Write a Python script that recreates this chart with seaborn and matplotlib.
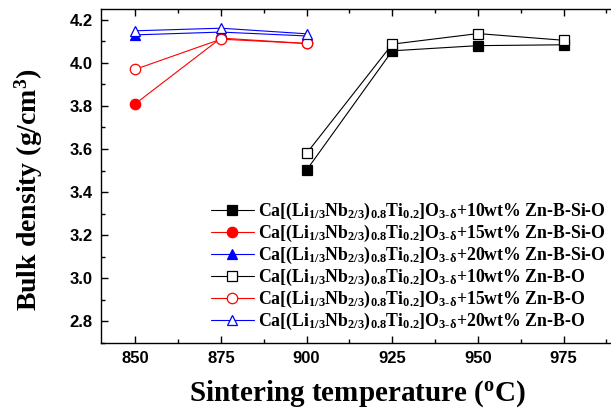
import matplotlib
matplotlib.use("Agg")
import matplotlib.pyplot as plt
import seaborn as sns
import pandas as pd
from matplotlib.ticker import MultipleLocator

# --- Data ---
temps_si = [850, 875, 900]
temps_b = [900, 925, 950, 975]

zbs_10 = [3.502, 4.056, 4.080, 4.084]   # Zn-B-Si-O, 10 wt%
zbs_15 = [3.81, 4.115, 4.09]            # Zn-B-Si-O, 15 wt%
zbs_20 = [4.13, 4.143, 4.125]           # Zn-B-Si-O, 20 wt%
zb_10 = [3.58, 4.087, 4.136, 4.105]     # Zn-B-O, 10 wt%
zb_15 = [3.97, 4.11, 4.09]              # Zn-B-O, 15 wt%
zb_20 = [4.149, 4.161, 4.135]           # Zn-B-O, 20 wt%

base = r"Ca[(Li$_{1/3}$Nb$_{2/3}$)$_{0.8}$Ti$_{0.2}$]O$_{3\text{-}\delta}$"

series = [
    (temps_b, zbs_10, "+10wt% Zn-B-Si-O", "black", "s", True),
    (temps_si, zbs_15, "+15wt% Zn-B-Si-O", "red", "o", True),
    (temps_si, zbs_20, "+20wt% Zn-B-Si-O", "blue", "^", True),
    (temps_b, zb_10, "+10wt% Zn-B-O", "black", "s", False),
    (temps_si, zb_15, "+15wt% Zn-B-O", "red", "o", False),
    (temps_si, zb_20, "+20wt% Zn-B-O", "blue", "^", False),
]

# --- Style ---
sns.set_style("ticks")
plt.rcParams.update({
    "font.family": ["Liberation Sans", "DejaVu Sans"],
    "font.weight": "bold",
    "mathtext.fontset": "custom",
    "mathtext.rm": "Liberation Serif:bold",
    "mathtext.it": "Liberation Serif:bold",
    "mathtext.bf": "Liberation Serif:bold",
    "mathtext.default": "rm",
    "axes.linewidth": 1.0,
    "text.color": "black",
    "axes.labelcolor": "black",
    "axes.edgecolor": "black",
    "xtick.color": "black",
    "ytick.color": "black",
})

fig = plt.figure(figsize=(6.11, 4.11), dpi=100)
ax = fig.add_axes([0.1653, 0.166, 1.0065 - 0.1653, 0.978 - 0.166])

for xs, ys, suffix, color, marker, filled in series:
    df = pd.DataFrame({"T": xs, "rho": ys})
    sns.lineplot(
        data=df, x="T", y="rho", ax=ax, color=color, linewidth=0.8,
        marker=marker, markersize=7 if marker != "o" else 7.5,
        markerfacecolor=color if filled else "white",
        markeredgecolor=color, markeredgewidth=0.9,
        label=base + suffix, zorder=3 if filled else 4,
    )

ax.set_xlim(840, 990)
ax.set_ylim(2.7, 4.25)
ax.xaxis.set_major_locator(MultipleLocator(25))
ax.xaxis.set_minor_locator(MultipleLocator(12.5))
ax.yaxis.set_minor_locator(MultipleLocator(0.1))
ax.set_yticks([2.8, 3.0, 3.2, 3.4, 3.6, 3.8, 4.0, 4.2])
ax.yaxis.set_major_formatter(matplotlib.ticker.FormatStrFormatter("%.1f"))
ax.tick_params(which="both", direction="in", top=True, right=False,
               labelsize=12, width=1.0)
ax.tick_params(which="major", length=5, pad=6)
ax.tick_params(which="minor", length=3)
for lab in ax.get_xticklabels() + ax.get_yticklabels():
    lab.set_fontweight("bold")
ax.spines["right"].set_visible(False)

ax.set_xlabel(r"Sintering temperature ($^{\mathrm{o}}$C)", fontsize=21,
              fontfamily="Liberation Serif", fontweight="bold", labelpad=9)
ax.set_ylabel(r"Bulk density (g/cm$^{3}$)", fontsize=20,
              fontfamily="Liberation Serif", fontweight="bold")
ax.yaxis.set_label_coords(-0.108, 0.46)

leg = ax.legend(loc="lower left", bbox_to_anchor=(0.19, -0.005), frameon=False,
                fontsize=12.8, handlelength=2.4, handletextpad=0.25,
                labelspacing=0.05, borderpad=0.2)
for t in leg.get_texts():
    t.set_fontfamily("Liberation Serif")
    t.set_fontweight("bold")

fig.savefig("out.png", dpi=100)
